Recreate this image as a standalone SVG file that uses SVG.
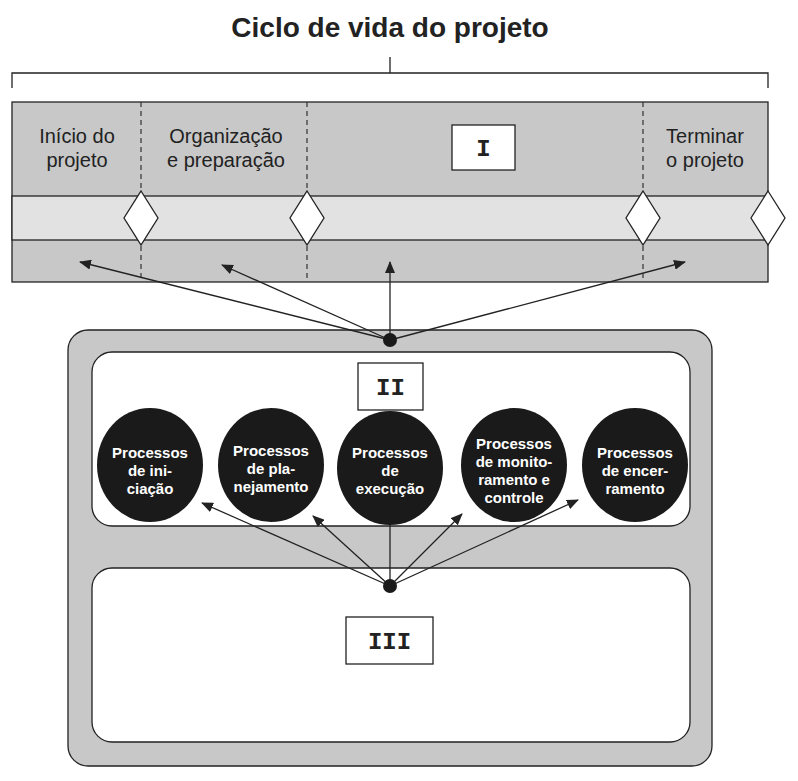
<svg xmlns="http://www.w3.org/2000/svg" width="798" height="781" viewBox="0 0 798 781">
<defs>
<style>
.t{font-family:"Liberation Sans",Arial,sans-serif;}
.lbl{font-family:"Liberation Sans",Arial,sans-serif;font-size:20px;fill:#222;text-anchor:middle}
.cl{font-family:"Liberation Sans",Arial,sans-serif;font-size:15px;font-weight:bold;fill:#fff;text-anchor:middle}
.rom{font-family:"Liberation Mono",monospace;font-size:24px;font-weight:bold;fill:#222;text-anchor:middle}
.ln{stroke:#222;stroke-width:1.3;fill:none}
.ar{stroke:#222;stroke-width:1.3;fill:none;marker-end:url(#ah)}
.dash{stroke:#333;stroke-width:1.2;stroke-dasharray:5,4}
.dia{fill:#fff;stroke:#222;stroke-width:1.3}
.circ{fill:#1a1a1a}
.box{fill:#fff;stroke:#222;stroke-width:1.3}
</style>
<marker id="ah" markerWidth="12" markerHeight="10" refX="11" refY="5" orient="auto" markerUnits="userSpaceOnUse"><path d="M0,0 L12,5 L0,10 Z" fill="#222"/></marker>
</defs>
<rect width="798" height="781" fill="#fff"/>
<text x="390" y="37" class="t" font-size="28" font-weight="bold" text-anchor="middle" fill="#222">Ciclo de vida do projeto</text>
<path class="ln" d="M12,88 V73 H768 V88 M390,73 V57"/>
<g id="lifecycle">
<rect x="12" y="102" width="756" height="180" fill="#c8c8c8" stroke="#222" stroke-width="1.3"/>
<rect x="12" y="196" width="756" height="44" fill="#e2e2e2" stroke="#222" stroke-width="1.3"/>
<line class="dash" x1="141" y1="102" x2="141" y2="282"/>
<line class="dash" x1="307" y1="102" x2="307" y2="282"/>
<line class="dash" x1="643" y1="102" x2="643" y2="282"/>
<path class="dia" d="M141,191 L158,218 L141,245 L124,218 Z"/>
<path class="dia" d="M307,191 L324,218 L307,245 L290,218 Z"/>
<path class="dia" d="M643,191 L660,218 L643,245 L626,218 Z"/>
<path class="dia" d="M768,191 L785,218 L768,245 L751,218 Z"/>
<text class="lbl" x="77" y="143">Início do</text><text class="lbl" x="77" y="167">projeto</text>
<text class="lbl" x="226" y="143">Organização</text><text class="lbl" x="226" y="167">e preparação</text>
<text class="lbl" x="705" y="143">Terminar</text><text class="lbl" x="705" y="167">o projeto</text>
<rect class="box" x="452" y="125" width="63" height="45"/><text class="rom" x="483.5" y="156">I</text>
</g>
<g id="outer">
<rect x="68" y="330" width="644" height="436" rx="20" fill="#c8c8c8" stroke="#222" stroke-width="1.3"/>
</g>
<g id="groups">
<rect x="92" y="352" width="598" height="174" rx="20" fill="#fff" stroke="#222" stroke-width="1.3"/>
<rect class="box" x="358" y="363" width="65" height="47"/><text class="rom" x="390.5" y="395">II</text>
</g>
<g id="knowledge">
<rect x="92" y="568" width="598" height="174" rx="20" fill="#fff" stroke="#222" stroke-width="1.3"/>
<rect class="box" x="346" y="617" width="87" height="47"/><text class="rom" x="389.5" y="649">III</text>
</g>
<g id="connectors">
<path class="ar" d="M390,340 L80,262"/>
<path class="ar" d="M390,340 L222,265"/>
<path class="ar" d="M390,340 L390,262"/>
<path class="ar" d="M390,340 L685,262"/>
<path class="ar" d="M390,586 L202,503"/>
<path class="ar" d="M390,586 L313,516"/>
<path class="ln" d="M390,586 L390,520"/>
<path class="ar" d="M390,586 L462,514"/>
<path class="ar" d="M390,586 L578,500"/>
<circle cx="390" cy="340" r="7" fill="#1a1a1a"/>
<circle cx="390" cy="586" r="7" fill="#1a1a1a"/>
</g>
<g id="p1"><ellipse class="circ" cx="150" cy="465" rx="53" ry="57"/><text class="cl" x="150" y="458">Processos</text><text class="cl" x="150" y="476">de ini-</text><text class="cl" x="150" y="494">ciação</text></g>
<g id="p2"><ellipse class="circ" cx="271" cy="465" rx="53" ry="57"/><text class="cl" x="271" y="456">Processos</text><text class="cl" x="271" y="474">de pla-</text><text class="cl" x="271" y="492">nejamento</text></g>
<g id="p3"><ellipse class="circ" cx="390" cy="468" rx="53" ry="57"/><text class="cl" x="390" y="458">Processos</text><text class="cl" x="390" y="476">de</text><text class="cl" x="390" y="494">execução</text></g>
<g id="p4"><ellipse class="circ" cx="514" cy="465" rx="53" ry="57"/><text class="cl" x="514" y="449">Processos</text><text class="cl" x="514" y="467">de monito-</text><text class="cl" x="514" y="485">ramento e</text><text class="cl" x="514" y="503">controle</text></g>
<g id="p5"><ellipse class="circ" cx="635" cy="465" rx="53" ry="57"/><text class="cl" x="635" y="458">Processos</text><text class="cl" x="635" y="476">de encer-</text><text class="cl" x="635" y="494">ramento</text></g>
</svg>
